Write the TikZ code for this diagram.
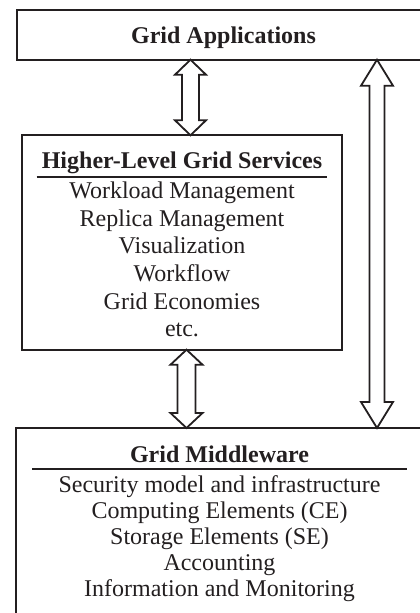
\documentclass[tikz,border=0pt]{standalone}
\usepackage{fontspec}
\setmainfont{Liberation Serif}
\usetikzlibrary{calc}
\definecolor{ink}{HTML}{231F20}

% double-headed block arrow between two tip coordinates
% #1 top tip, #2 bottom tip, #3 half head width, #4 half shaft width, #5 head length
\newcommand{\blockarrow}[5]{%
  \draw[arrowline] (#1) -- ($(#1)+(#3,#5)$) -- ($(#1)+(#4,#5)$)
    -- ($(#2)+(#4,-#5)$) -- ($(#2)+(#3,-#5)$) -- (#2)
    -- ($(#2)+(-#3,-#5)$) -- ($(#2)+(-#4,-#5)$)
    -- ($(#1)+(-#4,#5)$) -- ($(#1)+(-#3,#5)$) -- cycle;}

\begin{document}
\begin{tikzpicture}[x=1pt,y=-1pt,
  layerbox/.style={draw=ink,line width=2pt,outer sep=0pt,inner sep=0pt},
  arrowline/.style={draw=ink,line width=1.8pt,fill=white},
  rule/.style={draw=ink,line width=2.2pt},
  head/.style={anchor=base,inner sep=0pt,text=ink,font=\fontsize{24}{28}\selectfont\bfseries},
  item/.style={anchor=base,inner sep=0pt,text=ink,font=\fontsize{24}{28}\selectfont}]

\useasboundingbox (0,0) rectangle (420,613);
\clip (0,0) rectangle (420,613);

% layer boxes
\node[layerbox,minimum width=413pt,minimum height=49.4pt] (apps) at (223.5,35) {};
\node[layerbox,minimum width=320.3pt,minimum height=214.4pt] (services) at (181.85,242.5) {};
\node[layerbox,minimum width=406.4pt,minimum height=212pt] (middleware) at (219.5,534) {};

% top layer
\node[head] (appsT) at (223.5,43.3) {Grid Applications};

% higher-level services
\node[head] (servT) at (182,168.3) {Higher-Level Grid Services};
\coordinate (servRa) at (36.7,176.7);
\coordinate (servRb) at (326.7,176.7);
\draw[rule] (servRa) -- (servRb);
\node[item] (s1) at (182,198.3) {Workload Management};
\node[item] (s2) at (182,226.0) {Replica Management};
\node[item] (s3) at (182,253.7) {Visualization};
\node[item] (s4) at (182,281.4) {Workflow};
\node[item] (s5) at (182,309.1) {Grid Economies};
\node[item] (s6) at (182,336.8) {etc.};

% middleware
\node[head] (midT) at (219.5,462) {Grid Middleware};
\coordinate (midRa) at (32,469);
\coordinate (midRb) at (407,469);
\draw[rule] (midRa) -- (midRb);
\node[item] (m1) at (219.5,492.0) {Security model and infrastructure};
\node[item] (m2) at (219.5,518.2) {Computing Elements (CE)};
\node[item] (m3) at (219.5,544.4) {Storage Elements (SE)};
\node[item] (m4) at (219.5,570.6) {Accounting};
\node[item] (m5) at (219.5,596.8) {Information and Monitoring};

% arrow end points on the box borders
\coordinate (a1t) at (190.5,0 |- apps.south);
\coordinate (a1b) at (190.5,0 |- services.north);
\coordinate (a2t) at (186.5,0 |- services.south);
\coordinate (a2b) at (186.5,0 |- middleware.north);
\coordinate (a3t) at (377,0 |- apps.south);
\coordinate (a3b) at (377,0 |- middleware.north);

\blockarrow{a1t}{a1b}{15.5}{8.5}{15}
\blockarrow{a2t}{a2b}{16}{9}{15}
\blockarrow{a3t}{a3b}{16}{7.5}{26}

\end{tikzpicture}
\end{document}
